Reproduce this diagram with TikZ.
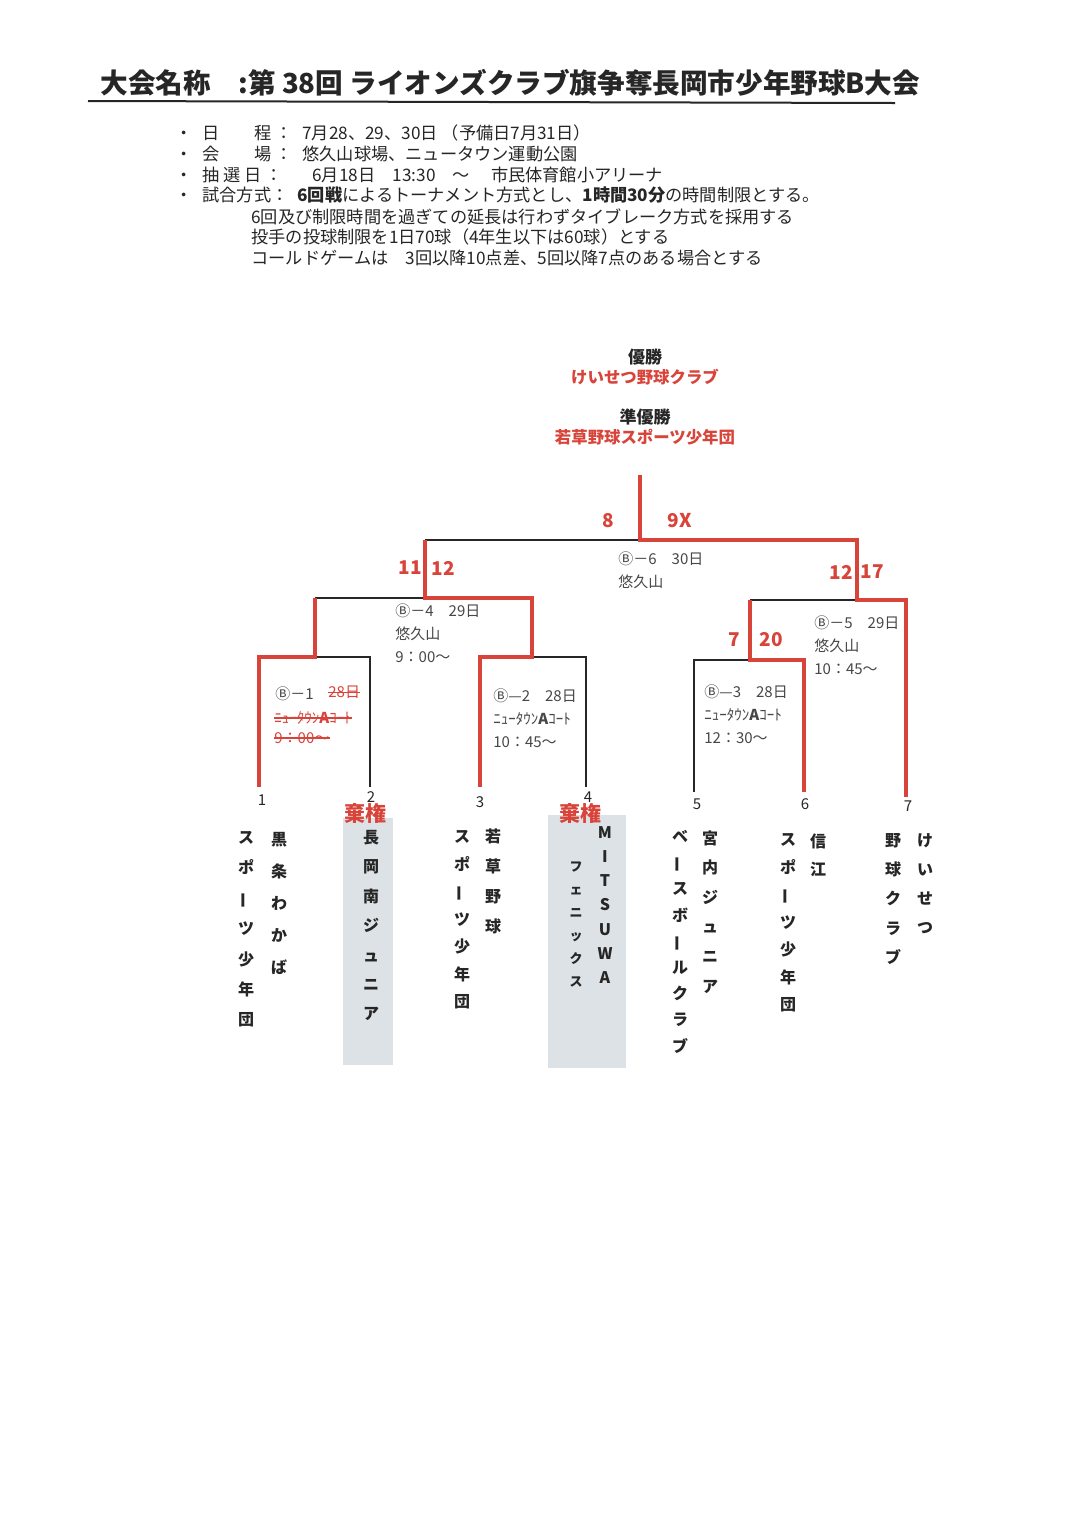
\documentclass[tikz,border=0pt]{standalone}
\usepackage{fontspec}
\setmainfont{Noto Sans CJK JP}
\usepackage{tikz}
\usetikzlibrary{positioning}
\definecolor{redline}{HTML}{D9443A}
\definecolor{ink}{HTML}{262626}
\definecolor{panel}{HTML}{DCE2E5}
\newcommand{\tatebo}{\rotatebox[origin=c]{90}{ー}}
\newcommand{\tatefont}[1]{\fontsize{8}{#1}\selectfont\bfseries}
\begin{document}
\begin{tikzpicture}[x=0.5pt,y=-0.5pt]
          \tikzstyle{every node}=[inner sep=0pt,text=ink]
          \tikzstyle{win}=[draw=redline,line width=2pt]
          \tikzstyle{lose}=[draw=ink,line width=0.7pt]
          \tikzstyle{txt}=[anchor=base west,font=\fontsize{8.6}{10}\selectfont]
          \tikzstyle{score}=[font=\fontsize{9.5}{10}\selectfont\bfseries,text=redline]
          \tikzstyle{info}=[anchor=north west,align=left,font=\fontsize{7.5}{11.5}\selectfont,text=ink!85]
          \tikzstyle{seed}=[font=\fontsize{7.5}{8}\selectfont]
          \tikzstyle{kiken}=[font=\fontsize{10.5}{11}\selectfont\bfseries,text=redline]
          \tikzstyle{team}=[anchor=north,align=center,font=\tatefont{15}]
          \useasboundingbox[fill=white] (0,0) rectangle (1076,1522);
          % 
          \node [anchor=base west,font=\fontsize{13.8}{15}\selectfont\bfseries] (title) at (100,93)
                {大会名称　:第 38回 ライオンズクラブ旗争奪長岡市少年野球B大会};
          \draw [ink,line width=1pt] (88,101) -- (895,103);
          % 
          \foreach \y in {139,160,181,201} \node [txt] at (175,\y) {・};
          \node [txt] (l1) at (202,139) {日　　程 ：};
          \node [txt] (l2) at (202,160) {会　　場 ：};
          \node [txt] (l3) at (202,181) {抽 選 日 ：};
          \node [txt] (l4) at (202,201) {試合方式：};
          \node [txt] (c1) at (302,139) {7月28、29、30日 （予備日7月31日）};
          \node [txt] (c2) at (302,160) {悠久山球場、ニュータウン運動公園};
          \node [txt] (c3) at (312,181) {6月18日　13:30　～　 市民体育館小アリーナ};
          \node [txt] (c4) at (297,201) {\textbf{6回戦}によるトーナメント方式とし、\textbf{1時間30分}の時間制限とする。};
          \node [txt] (c5) at (251,223) {6回及び制限時間を過ぎての延長は行わずタイブレーク方式を採用する};
          \node [txt] (c6) at (251,243) {投手の投球制限を1日70球（4年生以下は60球）とする};
          \node [txt] (c7) at (251,264) {コールドゲームは　3回以降10点差、5回以降7点のある場合とする};
          % 
          \node [font=\fontsize{8.5}{9}\selectfont\bfseries] (w1) at (645,357) {優勝};
          \node [font=\fontsize{8.2}{9}\selectfont\bfseries,text=redline] (w1n) at (645,377) {けいせつ野球クラブ};
          \node [font=\fontsize{8.5}{9}\selectfont\bfseries] (w2) at (645,417) {準優勝};
          \node [font=\fontsize{8.2}{9}\selectfont\bfseries,text=redline] (w2n) at (645,437) {若草野球スポーツ少年団};
          % 
          \coordinate (t1) at (259,787);
          \coordinate (t2) at (370,787);
          \coordinate (t3) at (480,787);
          \coordinate (t4) at (586,787);
          \coordinate (t5) at (694,792);
          \coordinate (t6) at (804,792);
          \coordinate (t7) at (906,797);
          \coordinate (g1) at (315,657);
          \coordinate (g2) at (532,657);
          \coordinate (g3) at (750,660);
          \coordinate (g4) at (425,598);
          \coordinate (g5) at (857,600);
          \coordinate (g6) at (640,540);
          \coordinate (top) at (640,475);
          % 
          \draw [lose] (t2) |- (g1);
          \draw [lose] (t4) |- (g2);
          \draw [lose] (t5) |- (g3);
          \draw [lose] (g1 |- g4) -- (g4);
          \draw [lose] (g3 |- g5) -- (g5);
          \draw [lose] (g4 |- g6) -- (g6);
          \draw [win] (t1) |- (g1) -- (g1 |- g4);
          \draw [win] (t3) |- (g2) -- (g2 |- g4) -- (g4) -- (g4 |- g6);
          \draw [win] (t6) |- (g3) -- (g3 |- g5);
          \draw [win] (t7) |- (g5) -- (g5 |- g6) -- (g6) -- (top);
          % 
          \node [score] (s8)  at (608,521) {8};
          \node [score] (s9)  at (680,521) {9X};
          \node [score] (s11) at (410,568) {11};
          \node [score] (s12) at (443,568) {12};
          \node [score] (s12b) at (841,572) {12};
          \node [score] (s17) at (872,572) {17};
          \node [score] (s7)  at (734,640) {7};
          \node [score] (s20) at (771,640) {20};
          % 
          \node [info] (b6) at (618,551) {Ⓑ－6　30日\\悠久山};
          \node [info] (b4) at (395,603) {Ⓑ－4　29日\\悠久山\\9：00～};
          \node [info] (b5) at (814,615) {Ⓑ－5　29日\\悠久山\\10：45～};
          \node [info] (b2) at (493,688) {Ⓑ—2　28日\\ﾆｭｰﾀｳﾝ\textbf{A}ｺｰﾄ\\10：45～};
          \node [info] (b3) at (704,684) {Ⓑ—3　28日\\ﾆｭｰﾀｳﾝ\textbf{A}ｺｰﾄ\\12：30～};
          \node [info] (b1) at (275,686) {Ⓑ－1};
          \node [info,text=redline] (b1d) at (328,686) {28日};
          \node [info,text=redline] (b1c) at (274,711) {ﾆｭｰﾀｳﾝ\textbf{A}ｺｰﾄ};
          \node [info,text=redline] (b1t) at (274,732) {9：00～};
          \draw [redline,line width=0.6pt] (b1d.west) -- (b1d.east);
          \draw [redline,line width=0.6pt] (b1c.west) -- (b1c.east);
          \draw [redline,line width=0.6pt] (b1t.west) -- (b1t.east);
          % 
          \fill [panel] (343,818) rectangle (393,1065);
          \fill [panel] (548,815) rectangle (626,1068);
          \node [seed] (n1) at (262,800) {1};
          \node [seed] (n2) at (371,797) {2};
          \node [seed] (n3) at (480,802) {3};
          \node [seed] (n4) at (588,797) {4};
          \node [seed] (n5) at (697,804) {5};
          \node [seed] (n6) at (805,804) {6};
          \node [seed] (n7) at (908,806) {7};
          \node [kiken] (k2) at (365,813) {棄権};
          \node [kiken] (k4) at (580,813) {棄権};
          % 
          \node [team,font=\tatefont{16}] (team1a) at (279,832) {黒\\条\\わ\\か\\ば};
          \node [team,font=\tatefont{15.2}] (team1b) at (246,831) {ス\\ポ\\\tatebo\\ツ\\少\\年\\団};
          \node [team,font=\tatefont{14.7}] (team2) at (371,830) {長\\岡\\南\\ジ\\ュ\\ニ\\ア};
          \node [team,font=\tatefont{15}] (team3a) at (493,828) {若\\草\\野\\球};
          \node [team,font=\tatefont{13.75}] (team3b) at (462,830) {ス\\ポ\\\tatebo\\ツ\\少\\年\\団};
          \node [team,font=\tatefont{12.1}] (team4a) at (605,826) {M\\I\\T\\S\\U\\W\\A};
          \node [team,font=\fontsize{6.5}{11.5}\selectfont\bfseries] (team4b) at (576,861) {フ\\ェ\\ニ\\ッ\\ク\\ス};
          \node [team,font=\tatefont{14.8}] (team5a) at (710,830) {宮\\内\\ジ\\ュ\\ニ\\ア};
          \node [team,font=\tatefont{13.1}] (team5b) at (680,830) {ベ\\\tatebo\\ス\\ボ\\\tatebo\\ル\\ク\\ラ\\ブ};
          \node [team,font=\tatefont{14}] (team6a) at (818,833) {信\\江};
          \node [team,font=\tatefont{13.75}] (team6b) at (788,833) {ス\\ポ\\\tatebo\\ツ\\少\\年\\団};
          \node [team,font=\tatefont{14.5}] (team7a) at (925,833) {け\\い\\せ\\つ};
          \node [team,font=\tatefont{14.6}] (team7b) at (893,833) {野\\球\\ク\\ラ\\ブ};
\end{tikzpicture}
\end{document}
